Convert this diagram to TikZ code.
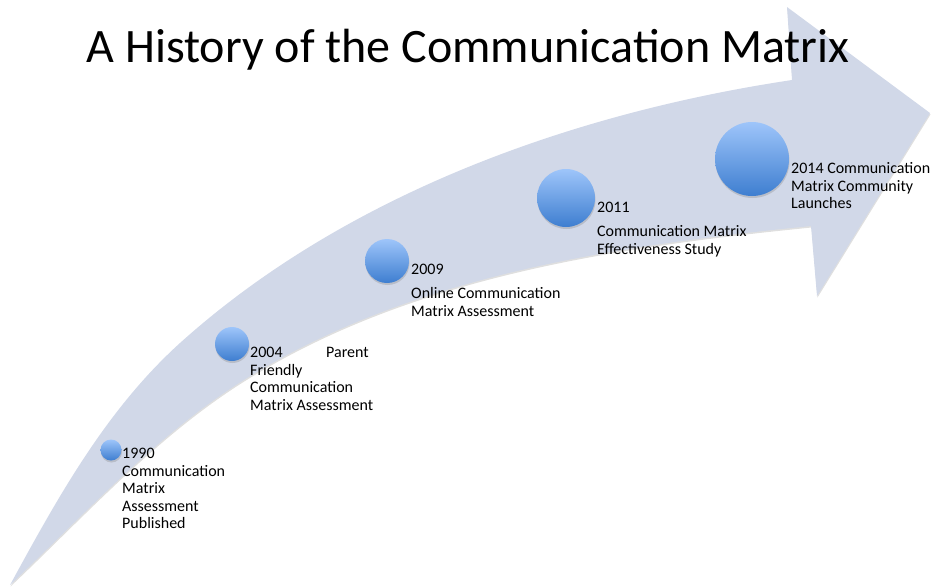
\documentclass[tikz,border=0pt]{standalone}
\usepackage{fontspec}
\setmainfont{Carlito}
\usetikzlibrary{shadows}
\definecolor{bandfill}{RGB}{209,216,232}
\definecolor{balltop}{RGB}{158,197,250}
\definecolor{ballbottom}{RGB}{62,126,208}
\tikzset{
  ball/.style={circle, inner sep=0pt, top color=balltop, bottom color=ballbottom,
    drop shadow={opacity=0.3, shadow xshift=0.5pt, shadow yshift=-2pt}},
  yeartext/.style={anchor=north west, inner sep=0pt, align=left,
    font=\fontsize{16}{17.5}\selectfont}
}
\begin{document}
\begin{tikzpicture}[x=1pt, y=-1pt]
    \useasboundingbox (0,0) rectangle (931,587);
    % curved arrow
    \fill[bandfill, drop shadow={opacity=0.25, shadow xshift=0.5pt, shadow yshift=-1.5pt}]
        (10,585) .. controls (58,497) and (106,410) .. (180,343)
        .. controls (345,194.5) and (572,113) .. (792,80)
        -- (787,7) -- (930,113) -- (817,296) -- (811,226)
        .. controls (617,245.5) and (413,275) .. (247,378)
        .. controls (158,433) and (86,513) .. (10,585) -- cycle;
    % title
    \node[anchor=base, font=\fontsize{48}{58}\selectfont] (title) at (468,62)
        {A History of the Communication Matrix};
    % balls
    \node[ball, minimum size=21pt] (b1990) at (111,450) {};
    \node[ball, minimum size=34pt] (b2004) at (232,344) {};
    \node[ball, minimum size=44pt] (b2009) at (387,261) {};
    \node[ball, minimum size=58pt] (b2011) at (566,198) {};
    \node[ball, minimum size=74pt] (b2014) at (752,159) {};
    % labels
    \node[yeartext] (t1990) at (122,448)
        {1990\\Communication\\Matrix\\Assessment\\Published};
    \node[yeartext] (t2004) at (250,347)
        {2004\hspace{43.5pt}Parent\\Friendly\\Communication\\Matrix Assessment};
    \node[yeartext] (t2009) at (411,264)
        {2009\\[6.5pt]Online Communication\\Matrix Assessment};
    \node[yeartext] (t2011) at (597,202)
        {2011\\[6.5pt]Communication Matrix\\Effectiveness Study};
    \node[yeartext] (t2014) at (791,162.5)
        {2014 Communication\\Matrix Community\\Launches};
\end{tikzpicture}
\end{document}
